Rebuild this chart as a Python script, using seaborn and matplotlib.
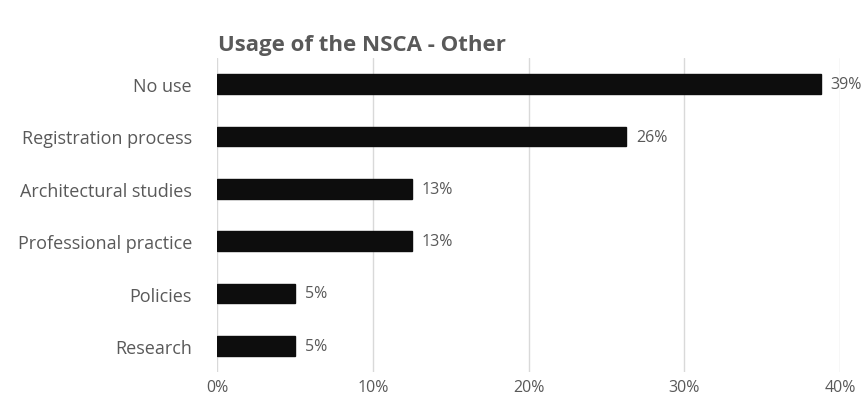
import matplotlib
matplotlib.use("Agg")
import matplotlib.pyplot as plt
import seaborn as sns
import pandas as pd

categories = ["No use", "Registration process", "Architectural studies",
              "Professional practice", "Policies", "Research"]
values = [38.75, 26.25, 12.5, 12.5, 5.0, 5.0]
value_labels = ["39%", "26%", "13%", "13%", "5%", "5%"]
x_ticks = [0, 10, 20, 30, 40]
x_tick_labels = ["0%", "10%", "20%", "30%", "40%"]
title = "Usage of the NSCA - Other"

sns.set_theme(style="white")
plt.rcParams['font.family'] = ['Open Sans', 'DejaVu Sans']

df = pd.DataFrame({"category": categories, "value": values})
grey = "#595959"

fig = plt.figure(figsize=(8.67, 4.06), dpi=100)
ax = fig.add_axes([217/867, 1-373/406, (840-217)/867, (373-59)/406])

sns.barplot(data=df, y="category", x="value", orient="h", color="#0d0d0d",
            width=0.38, ax=ax, saturation=1, edgecolor="#0d0d0d")

ax.set_xlim(0, 40)
ax.set_ylim(len(categories) - 0.5, -0.5)
ax.set_xticks(x_ticks)
ax.set_xticklabels(x_tick_labels)
ax.set_xlabel("")
ax.set_ylabel("")
ax.grid(axis="x", color="#d9d9d9", linewidth=1)
ax.set_axisbelow(True)
for s in ax.spines.values():
    s.set_visible(False)
ax.tick_params(axis="x", length=0, colors=grey, labelsize=11.5, pad=5)
ax.tick_params(axis="y", length=0, colors=grey, labelsize=13, pad=18)

for i, (v, lab) in enumerate(zip(values, value_labels)):
    ax.text(v + 0.65, i, lab, va="center", ha="left", color=grey, fontsize=11.5)

fig.text(218/867, 1-45/406, title, ha="left", va="center", color=grey,
         fontsize=16, fontweight="bold")

fig.savefig("out.png", dpi=100, facecolor="white")
